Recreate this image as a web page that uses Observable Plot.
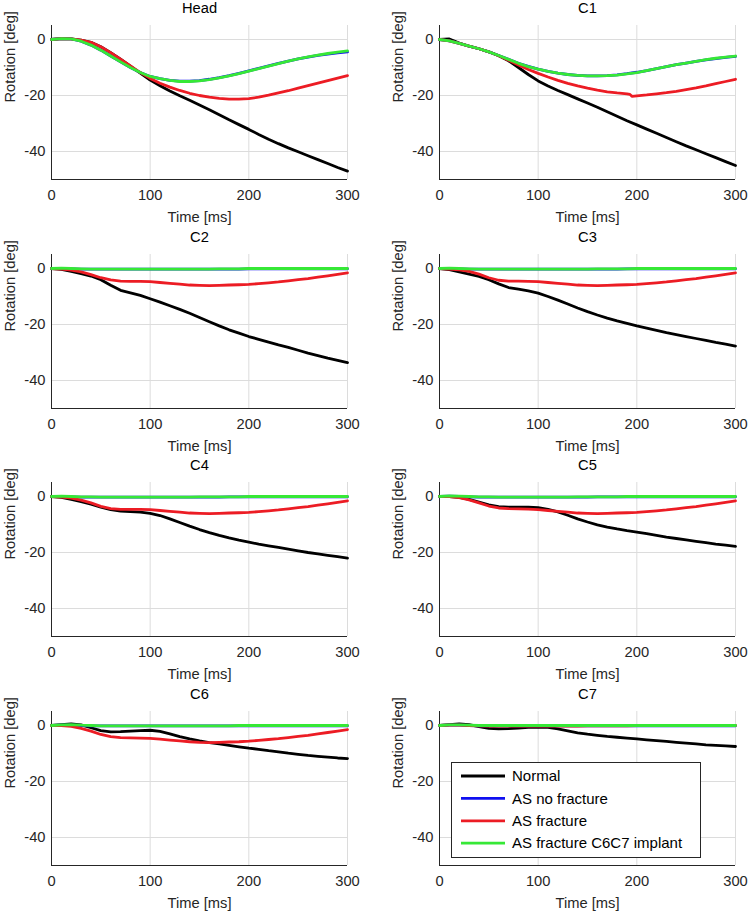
<!DOCTYPE html>
<html><head><meta charset="utf-8">
<script src="https://cdn.jsdelivr.net/npm/d3@7"></script>
<script src="https://cdn.jsdelivr.net/npm/@observablehq/plot@0.6"></script>
<style>
html,body{margin:0;padding:0;background:#fff;}
#chart{position:relative;width:750px;height:912px;overflow:hidden;background:#fff;font-family:"Liberation Sans",Arial,Helvetica,sans-serif;}
#chart > svg{position:absolute;}
</style></head><body><div id="chart"></div>
<script>
// ---------- data ----------
const panelNames = ["Head","C1","C2","C3","C4","C5","C6","C7"];
const seriesNames = ["Normal","AS no fracture","AS fracture","AS fracture C6C7 implant"];
const xTicks = [0,100,200,300];
const yTicks = [0,-20,-40];
const xDomain = [0,300];
const yDomain = [-50,5];

const timeMs = [0,10,20,30,40,50,60,70,80,90,100,110,120,130,140,150,160,170,180,190,200,210,220,230,240,250,260,270,280,290,300];
const timeMsC1Fracture = [0,10,20,30,40,50,60,70,80,90,100,110,120,130,140,150,160,170,180,190,193,195,200,210,220,230,240,250,260,270,280,290,300];

const headNormal     = [0,0.3,0.2,-0.2,-1.0,-2.6,-4.7,-7.0,-9.5,-12.0,-14.5,-16.5,-18.4,-20.1,-21.7,-23.4,-25.1,-26.9,-28.7,-30.4,-32.1,-33.9,-35.6,-37.2,-38.7,-40.1,-41.5,-42.9,-44.3,-45.7,-47.0];
const headNoFracture = [0,0.3,0.2,-0.6,-2.0,-3.8,-5.9,-8.0,-10.0,-11.8,-13.2,-14.0,-14.6,-14.9,-14.9,-14.7,-14.2,-13.6,-12.9,-12.1,-11.2,-10.3,-9.4,-8.5,-7.7,-6.9,-6.3,-5.7,-5.2,-4.8,-4.4];
const headFracture   = [0,0.3,0.2,-0.2,-1.0,-2.6,-4.7,-7.0,-9.4,-11.8,-13.9,-15.6,-17.0,-18.2,-19.2,-20.0,-20.6,-21.0,-21.3,-21.3,-21.1,-20.6,-19.9,-19.1,-18.3,-17.4,-16.5,-15.6,-14.7,-13.8,-12.9];
const headImplant    = [0,0.3,0.2,-0.6,-2.0,-3.8,-5.9,-8.0,-10.0,-11.8,-13.2,-14.0,-14.6,-15.0,-15.0,-14.8,-14.3,-13.7,-13.0,-12.2,-11.3,-10.4,-9.5,-8.6,-7.7,-6.9,-6.2,-5.6,-5.0,-4.5,-4.1];

const c1Normal     = [0,0.2,-1.3,-2.4,-3.3,-4.4,-5.8,-7.6,-10.0,-12.5,-14.8,-16.6,-18.2,-19.7,-21.2,-22.7,-24.2,-25.8,-27.4,-29.0,-30.5,-32.0,-33.5,-35.0,-36.5,-38.0,-39.4,-40.8,-42.2,-43.6,-45.0];
const c1NoFracture = [0,-0.5,-1.4,-2.4,-3.3,-4.4,-5.7,-7.1,-8.5,-9.6,-10.6,-11.4,-12.0,-12.5,-12.8,-13.0,-13.0,-12.9,-12.6,-12.2,-11.7,-11.1,-10.4,-9.7,-9.0,-8.4,-7.8,-7.3,-6.8,-6.4,-6.0];
const c1Fracture   = [0,-0.5,-1.4,-2.4,-3.3,-4.4,-5.8,-7.4,-9.1,-10.7,-12.1,-13.4,-14.6,-15.7,-16.6,-17.4,-18.1,-18.7,-19.1,-19.4,-19.6,-20.3,-20.1,-19.8,-19.4,-19.0,-18.5,-17.9,-17.3,-16.6,-15.8,-15.0,-14.2];
const c1Implant    = [0,-0.5,-1.4,-2.4,-3.3,-4.4,-5.7,-7.1,-8.5,-9.7,-10.6,-11.4,-12.0,-12.5,-12.8,-13.0,-13.0,-12.9,-12.7,-12.3,-11.8,-11.1,-10.4,-9.7,-9.0,-8.4,-7.8,-7.2,-6.7,-6.3,-5.9];

const c2Normal     = [0,-0.3,-1.0,-1.8,-2.7,-4.0,-6.0,-7.8,-8.7,-9.6,-10.8,-12.0,-13.3,-14.6,-16.0,-17.5,-19.0,-20.5,-21.9,-23.1,-24.3,-25.3,-26.3,-27.3,-28.2,-29.2,-30.2,-31.1,-32.0,-32.8,-33.6];
const c2NoFracture = [0,0,-0.1,-0.2,-0.2,-0.2,-0.2,-0.2,-0.2,-0.2,-0.2,-0.2,-0.2,-0.2,-0.2,-0.2,-0.2,-0.2,-0.2,-0.2,-0.1,-0.1,-0.1,-0.1,-0.1,-0.1,-0.1,-0.1,-0.1,-0.1,-0.1];
const c2Fracture   = [0,-0.2,-0.6,-1.2,-2.2,-3.3,-4.1,-4.5,-4.6,-4.6,-4.7,-5.0,-5.3,-5.6,-5.9,-6.0,-6.1,-6.0,-5.9,-5.8,-5.7,-5.4,-5.1,-4.8,-4.4,-4.0,-3.6,-3.1,-2.6,-2.1,-1.6];
const c2Implant    = [0,0.1,0,-0.1,-0.2,-0.2,-0.2,-0.2,-0.2,-0.2,-0.2,-0.2,-0.2,-0.2,-0.2,-0.2,-0.2,-0.1,-0.1,-0.1,0,0,0,0,0,0,0,0,0,0,0];

const c3Normal     = [0,-0.4,-1.2,-2.0,-2.8,-4.0,-5.5,-6.8,-7.4,-8.0,-8.8,-10.0,-11.3,-12.7,-14.1,-15.4,-16.6,-17.7,-18.7,-19.6,-20.5,-21.3,-22.1,-22.9,-23.6,-24.3,-25.0,-25.7,-26.4,-27.0,-27.7];
const c3NoFracture = [0,0,-0.1,-0.2,-0.2,-0.2,-0.2,-0.2,-0.2,-0.2,-0.2,-0.2,-0.2,-0.2,-0.2,-0.2,-0.2,-0.2,-0.2,-0.1,-0.1,-0.1,-0.1,-0.1,-0.1,-0.1,-0.1,-0.1,-0.1,-0.1,-0.1];
const c3Fracture   = [0,-0.2,-0.5,-1.0,-2.0,-3.3,-4.2,-4.5,-4.5,-4.6,-4.7,-5.0,-5.3,-5.6,-5.9,-6.0,-6.1,-6.0,-5.9,-5.8,-5.7,-5.4,-5.1,-4.8,-4.4,-4.0,-3.6,-3.1,-2.6,-2.1,-1.6];
const c3Implant    = [0,0.1,0,-0.1,-0.2,-0.2,-0.2,-0.2,-0.2,-0.2,-0.2,-0.2,-0.2,-0.2,-0.2,-0.2,-0.1,-0.1,-0.1,-0.1,0,0,0,0,0,0,0,0,0,0,0];

const c4Normal     = [0,-0.3,-1.0,-1.8,-2.7,-3.8,-4.7,-5.2,-5.4,-5.6,-6.0,-6.8,-8.0,-9.3,-10.6,-11.8,-12.9,-13.9,-14.8,-15.6,-16.3,-17.0,-17.6,-18.2,-18.8,-19.4,-20.0,-20.5,-21.0,-21.5,-22.0];
const c4NoFracture = [0,0,-0.1,-0.2,-0.2,-0.2,-0.2,-0.2,-0.2,-0.2,-0.2,-0.2,-0.2,-0.2,-0.2,-0.2,-0.2,-0.2,-0.1,-0.1,-0.1,-0.1,-0.1,-0.1,-0.1,-0.1,-0.1,-0.1,-0.1,-0.1,-0.1];
const c4Fracture   = [0,-0.2,-0.6,-1.3,-2.3,-3.5,-4.3,-4.6,-4.6,-4.6,-4.7,-5.0,-5.3,-5.6,-5.9,-6.0,-6.1,-6.0,-5.9,-5.8,-5.7,-5.4,-5.1,-4.8,-4.4,-4.0,-3.6,-3.1,-2.6,-2.1,-1.6];
const c4Implant    = [0,0.1,0,-0.1,-0.1,-0.2,-0.2,-0.2,-0.2,-0.2,-0.2,-0.2,-0.2,-0.2,-0.2,-0.1,-0.1,-0.1,-0.1,-0.1,0,0,0,0,0,0,0,0,0,0,0];

const c5Normal     = [0,0,-0.3,-1.0,-2.0,-3.0,-3.6,-3.8,-3.8,-3.8,-4.0,-4.6,-5.5,-6.7,-8.0,-9.1,-10.1,-10.9,-11.6,-12.2,-12.7,-13.3,-13.9,-14.5,-15.0,-15.5,-16.0,-16.5,-17.0,-17.4,-17.8];
const c5NoFracture = [0,0.1,0,-0.1,-0.2,-0.2,-0.2,-0.2,-0.2,-0.2,-0.2,-0.2,-0.2,-0.2,-0.2,-0.2,-0.1,-0.1,-0.1,-0.1,-0.1,-0.1,-0.1,-0.1,-0.1,-0.1,-0.1,-0.1,-0.1,-0.1,-0.1];
const c5Fracture   = [0,0,-0.4,-1.2,-2.3,-3.4,-4.1,-4.3,-4.4,-4.5,-4.7,-5.0,-5.3,-5.6,-5.9,-6.0,-6.1,-6.0,-5.9,-5.8,-5.7,-5.4,-5.1,-4.8,-4.4,-4.0,-3.6,-3.1,-2.6,-2.1,-1.6];
const c5Implant    = [0,0.2,0.1,0,-0.1,-0.1,-0.2,-0.2,-0.2,-0.2,-0.2,-0.2,-0.2,-0.2,-0.1,-0.1,-0.1,-0.1,-0.1,0,0,0,0,0,0,0,0,0,0,0,0];

const c6Normal     = [0,0.3,0.6,0.2,-0.8,-1.8,-2.3,-2.2,-2.0,-1.8,-1.7,-2.1,-3.0,-4.0,-4.8,-5.5,-6.1,-6.6,-7.1,-7.6,-8.1,-8.5,-9.0,-9.4,-9.9,-10.3,-10.7,-11.0,-11.3,-11.6,-11.8];
const c6NoFracture = [0,0.1,0.1,0,-0.1,-0.1,-0.1,-0.1,-0.1,-0.1,-0.1,-0.1,-0.1,-0.1,-0.1,-0.1,-0.1,-0.1,-0.1,-0.1,-0.1,-0.1,-0.1,-0.1,-0.1,-0.1,-0.1,-0.1,-0.1,-0.1,-0.1];
const c6Fracture   = [0,0,-0.3,-1.0,-2.0,-3.2,-4.0,-4.3,-4.4,-4.5,-4.6,-4.9,-5.2,-5.5,-5.8,-6.0,-6.1,-6.0,-5.9,-5.8,-5.6,-5.3,-5.0,-4.7,-4.3,-3.9,-3.5,-3.0,-2.5,-2.0,-1.5];
const c6Implant    = [0,0.2,0.3,0.1,0,-0.1,-0.1,-0.1,-0.1,-0.1,-0.1,-0.1,-0.1,-0.1,-0.1,-0.1,-0.1,-0.1,-0.1,0,0,0,0,0,0,0,0,0,0,0,0];

const c7Normal     = [0,0.3,0.6,0.3,-0.4,-1.0,-1.2,-1.1,-0.9,-0.7,-0.6,-0.7,-1.2,-1.9,-2.6,-3.1,-3.5,-3.9,-4.2,-4.5,-4.8,-5.1,-5.4,-5.7,-6.0,-6.3,-6.6,-6.9,-7.1,-7.3,-7.5];
const c7NoFracture = [0,0.1,0.1,0,-0.1,-0.1,-0.1,-0.1,-0.1,-0.1,-0.1,-0.1,-0.1,-0.1,-0.1,-0.1,-0.1,-0.1,-0.1,-0.1,-0.1,-0.1,-0.1,-0.1,-0.1,-0.1,-0.1,-0.1,-0.1,-0.1,-0.1];
const c7Fracture   = [0,0.1,0.1,0,-0.1,-0.2,-0.2,-0.2,-0.2,-0.2,-0.2,-0.2,-0.2,-0.2,-0.2,-0.1,-0.1,-0.1,-0.1,-0.1,0,0,0,0,0,0,0,0,0,0,0];
const c7Implant    = [0,0.2,0.2,0.1,0,0,0,0,0,0,0,0,0,0,0,0,0,0,0,0,0,0,0,0,0,0,0,0,0,0,0];

// ---------- assembly ----------
const panelSeries = [
  [headNormal, headNoFracture, headFracture, headImplant],
  [c1Normal, c1NoFracture, c1Fracture, c1Implant],
  [c2Normal, c2NoFracture, c2Fracture, c2Implant],
  [c3Normal, c3NoFracture, c3Fracture, c3Implant],
  [c4Normal, c4NoFracture, c4Fracture, c4Implant],
  [c5Normal, c5NoFracture, c5Fracture, c5Implant],
  [c6Normal, c6NoFracture, c6Fracture, c6Implant],
  [c7Normal, c7NoFracture, c7Fracture, c7Implant]
];
const timesFor = (p, s) => (p === 1 && s === 2) ? timeMsC1Fracture : timeMs;

// ---------- styles ----------
const seriesColors = ["#000000", "#1010f0", "#ec1c24", "#36e836"];
const FONT = '"Liberation Sans", Arial, Helvetica, sans-serif';
const FS = 14.7;
const AXIS = "#262626";
const GRID = "#dcdcdc";

const chart = document.getElementById("chart");

panelNames.forEach((name, p) => {
  const col = p % 2, row = Math.floor(p / 2);
  const rows = [];
  panelSeries[p].forEach((vals, s) => {
    const times = timesFor(p, s);
    vals.forEach((v, k) => rows.push({t: times[k], v, series: seriesNames[s]}));
  });
  const svg = Plot.plot({
    width: 362,
    height: 226,
    marginLeft: 51, marginRight: 15, marginTop: 25, marginBottom: 47,
    style: {fontFamily: FONT, fontSize: FS + "px", background: "transparent", overflow: "visible"},
    x: {domain: xDomain, label: null},
    y: {domain: yDomain, label: null},
    color: {domain: seriesNames, range: seriesColors},
    marks: [
      Plot.gridX(xTicks, {stroke: GRID, strokeOpacity: 1, strokeWidth: 1}),
      Plot.gridY(yTicks, {stroke: GRID, strokeOpacity: 1, strokeWidth: 1}),
      Plot.ruleX([xDomain[0]], {stroke: AXIS, strokeWidth: 1}),
      Plot.ruleY([yDomain[0]], {stroke: AXIS, strokeWidth: 1}),
      Plot.axisX(xTicks, {tickSize: 0, tickPadding: 10, label: null, tickFormat: d => String(d), fill: AXIS, fontSize: FS}),
      Plot.axisY(yTicks, {tickSize: 0, tickPadding: 6, label: null, tickFormat: d => String(d), fill: AXIS, fontSize: FS}),
      Plot.line(rows, {x: "t", y: "v", z: "series", stroke: "series", strokeWidth: 2.8, strokeLinejoin: "round", strokeLinecap: "round"}),
      Plot.text([name], {text: d => d, frameAnchor: "top", lineAnchor: "middle", dy: -17, fill: "#000", fontSize: FS}),
      Plot.text(["Rotation [deg]"], {text: d => d, frameAnchor: "left", lineAnchor: "middle", rotate: -90, dx: -41, fill: AXIS, fontSize: FS}),
      Plot.text(["Time [ms]"], {text: d => d, frameAnchor: "bottom", lineAnchor: "middle", dy: 38, fill: AXIS, fontSize: FS})
    ]
  });
  svg.style.left = (col * 388) + "px";
  svg.style.top = (row * 228.67) + "px";
  chart.appendChild(svg);
});

// ---------- legend (inside C7 panel) ----------
const leg = d3.select(chart).append("svg")
  .attr("width", 251).attr("height", 97)
  .style("position", "absolute").style("left", "451px").style("top", "762px")
  .style("font-family", FONT);
leg.append("rect").attr("x", 0.5).attr("y", 0.5).attr("width", 249).attr("height", 95)
  .attr("fill", "#fff").attr("stroke", AXIS).attr("stroke-width", 1);
seriesNames.forEach((n, i) => {
  const y = 14 + i * 22.4;
  leg.append("line").attr("x1", 10).attr("x2", 54).attr("y1", y).attr("y2", y)
    .attr("stroke", seriesColors[i]).attr("stroke-width", 2.8);
  leg.append("text").attr("x", 61).attr("y", y).attr("dy", "0.35em")
    .attr("font-size", 15).attr("fill", "#000").text(n);
});
</script>
</body></html>
